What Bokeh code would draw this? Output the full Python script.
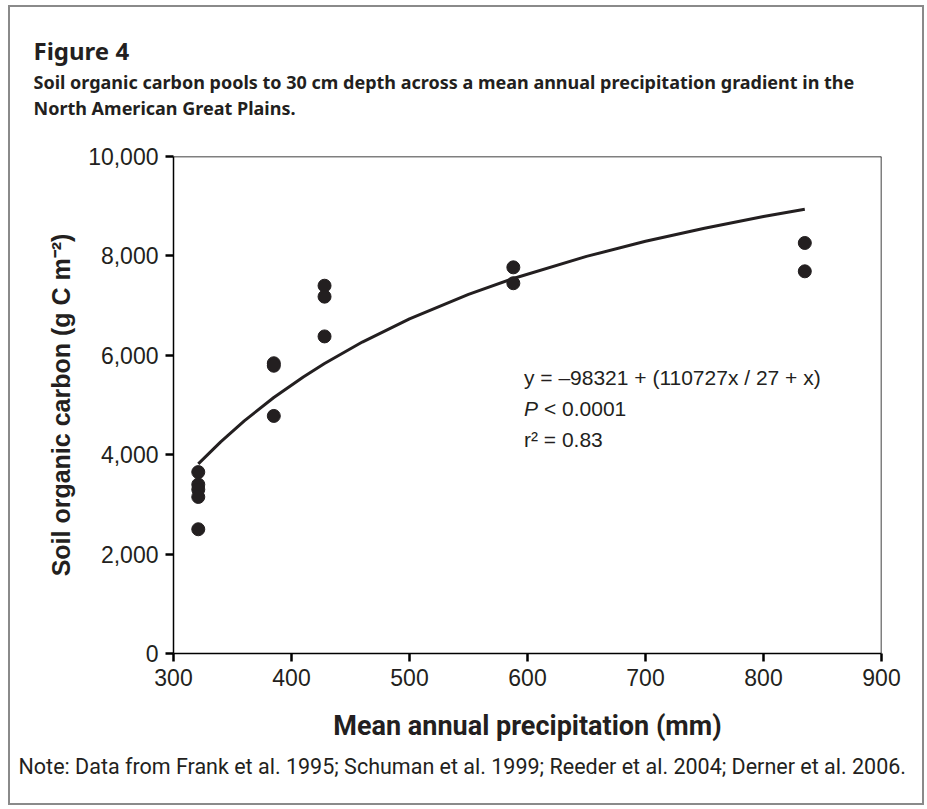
from bokeh.plotting import figure
from bokeh.models import Label, Span, NumeralTickFormatter, FixedTicker, Range1d, Title
from bokeh.embed import file_html
from bokeh.resources import INLINE

# ---- data ----
precip = [321, 321, 321, 321, 321, 385, 385, 385, 428, 428, 428, 588, 588, 835, 835]
soc = [3650, 3400, 3300, 3150, 2500, 5840, 5790, 4780, 7400, 7180, 6380, 7770, 7450, 8260, 7690]

fit_x = [321, 340, 360, 385, 410, 428, 460, 500, 550, 588, 650, 700, 750, 800, 835]
fit_y = [3816, 4259, 4681, 5150, 5565, 5835, 6267, 6733, 7225, 7545, 7990, 8294, 8558, 8791, 8938]

x_ticks = [300, 400, 500, 600, 700, 800, 900]
y_ticks = [0, 2000, 4000, 6000, 8000, 10000]

title_text = "Figure 4"
subtitle_1 = "Soil organic carbon pools to 30 cm depth across a mean annual precipitation gradient in the"
subtitle_2 = "North American Great Plains."
note_text = "Note: Data from Frank et al. 1995; Schuman et al. 1999; Reeder et al. 2004; Derner et al. 2006."
eq_text = "y = \u201398321 + (110727x / 27 + x)"
p_text = "< 0.0001"
r_text = "r\u00b2 = 0.83"

INK = "#231f20"
TICK_FONT = "Liberation Sans"
TITLE_FONT = "Noto Sans"
NARROW = "Roboto"

p = figure(width=916, height=800, output_backend="svg", toolbar_location=None,
           x_range=Range1d(300, 900), y_range=Range1d(0, 10000),
           min_border_left=163, min_border_right=45, min_border_top=149, min_border_bottom=154)
p.styles = {"border": "2px solid #8a8a8a", "margin-left": "8px", "margin-top": "5px"}
p.title.visible = False
p.background_fill_color = "white"
p.border_fill_color = "white"
p.outline_line_color = None
p.grid.grid_line_color = None

# axes
for ax in (p.xaxis[0], p.yaxis[0]):
    ax.axis_line_color = "black"
    ax.axis_line_width = 1.5
    ax.major_tick_line_color = "black"
    ax.major_tick_line_width = 2.5
    ax.major_tick_in = 0
    ax.major_tick_out = 8
    ax.minor_tick_line_color = None
    ax.major_label_text_font = TICK_FONT
    ax.major_label_text_font_size = "23px"
    ax.major_label_text_color = INK

p.xaxis.ticker = FixedTicker(ticks=x_ticks)
p.yaxis.ticker = FixedTicker(ticks=y_ticks)
p.yaxis.formatter = NumeralTickFormatter(format="0,0")
p.xaxis.major_label_standoff = 7
p.yaxis.major_label_standoff = 7

p.xaxis.axis_label = "Mean annual precipitation (mm)"
p.xaxis.axis_label_text_font = NARROW
p.xaxis.axis_label_text_font_style = "bold"
p.xaxis.axis_label_text_font_size = "27px"
p.xaxis.axis_label_text_color = INK
p.xaxis.axis_label_standoff = 21

p.yaxis.axis_label = "Soil organic carbon (g C m\u207b\u00b2)"
p.yaxis.axis_label_text_font = TICK_FONT
p.yaxis.axis_label_text_font_style = "bold"
p.yaxis.axis_label_text_font_size = "25px"
p.yaxis.axis_label_text_color = INK
p.yaxis.axis_label_standoff = 10

# frame top and right lines
p.add_layout(Span(location=10000, dimension="width", line_color="black", line_width=1.5))
p.add_layout(Span(location=900, dimension="height", line_color="black", line_width=1.5))

# fit curve and points
p.line(fit_x, fit_y, line_color=INK, line_width=3)
p.scatter(precip, soc, size=13, fill_color=INK, line_color=INK)

# statistics text
p.add_layout(Label(x=597, y=5550, text=eq_text, text_font=TICK_FONT, text_font_size="21px",
                   text_color=INK, text_baseline="middle"))
p.add_layout(Label(x=597, y=4930, text="P", text_font=TICK_FONT, text_font_size="21px",
                   text_font_style="italic", text_color=INK, text_baseline="middle"))
p.add_layout(Label(x=597, y=4930, x_offset=20, text=p_text, text_font=TICK_FONT, text_font_size="21px",
                   text_color=INK, text_baseline="middle"))
p.add_layout(Label(x=597, y=4310, text=r_text, text_font=TICK_FONT, text_font_size="21px",
                   text_color=INK, text_baseline="middle"))

# titles (stacked outward from the frame) and note
p.add_layout(Title(text=" ", align="left", standoff=0, text_font=TITLE_FONT,
                   text_font_size="25px", text_color=INK), "above")
p.add_layout(Title(text=subtitle_2, align="left", offset=-140, standoff=1,
                   text_font=TITLE_FONT, text_font_style="bold", text_font_size="18px",
                   text_color=INK), "above")
p.add_layout(Title(text=subtitle_1, align="left", offset=-140, standoff=-1,
                   text_font=TITLE_FONT, text_font_style="bold", text_font_size="18px",
                   text_color=INK), "above")
p.add_layout(Title(text=title_text, align="left", offset=-140, standoff=4,
                   text_font=TITLE_FONT, text_font_style="bold", text_font_size="24px",
                   text_color=INK), "above")
p.add_layout(Title(text=note_text, align="left", offset=-155, standoff=15,
                   text_font=NARROW, text_font_style="normal", text_font_size="21.5px",
                   text_color=INK), "below")

open("out.html", "w").write(file_html(p, INLINE))
